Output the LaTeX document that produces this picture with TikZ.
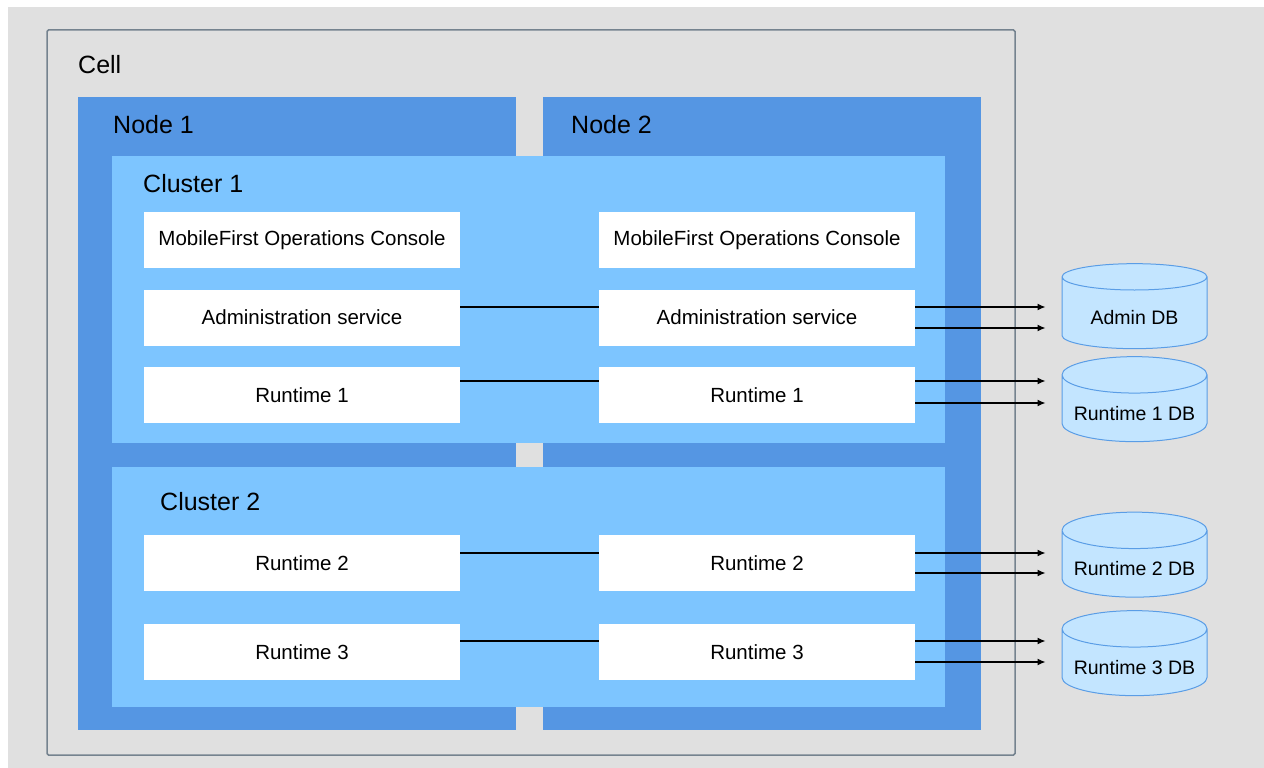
\documentclass[tikz,border=0pt]{standalone}
\usepackage{fontspec}
\setmainfont{Liberation Sans}
\usetikzlibrary{shapes.geometric,arrows.meta}

\definecolor{bggray}{HTML}{E0E0E0}
\definecolor{cellline}{HTML}{75838F}
\definecolor{nodeblue}{HTML}{5596E3}
\definecolor{clusterblue}{HTML}{7DC5FF}
\definecolor{dbfill}{HTML}{C3E5FF}
\definecolor{dbline}{HTML}{5A9DE6}

\newcommand{\dbtext}[1]{\raisebox{-5pt}[\height][\depth]{#1}}

\tikzset{
  area/.style={anchor=north west, inner sep=0pt, outer sep=0pt},
  cellbox/.style={area, draw=cellline, line width=1.5pt, rounded corners=1.5pt},
  hostbox/.style={area, fill=nodeblue},
  clusterbox/.style={area, fill=clusterblue},
  title/.style={anchor=west, inner sep=0pt, font=\fontsize{25}{28}\selectfont},
  appbox/.style={fill=white, minimum width=316pt, minimum height=56pt, inner sep=0pt,
    font=\fontsize{20.5}{22}\selectfont},
  dbcyl/.style={cylinder, shape border rotate=90, aspect=0.3, draw=dbline, fill=dbfill,
    line width=1pt, minimum width=145pt, minimum height=85pt, inner sep=0pt,
    font=\fontsize{19.5}{22}\selectfont},
  link/.style={line width=1.3pt},
  dblink/.style={line width=1.3pt, -{Latex[length=8pt,width=7pt]}, shorten >=16pt}
}

\begin{document}
\begin{tikzpicture}[x=1pt,y=-1pt]
        \useasboundingbox (0,0) rectangle (1264,768);
        \fill[bggray] (8,7) rectangle (1264,768);

        % Draw the cell, the two nodes and the two clusters
        \node[cellbox, minimum width=968pt, minimum height=725pt] (cell) at (47,30) {};
        \node[hostbox, minimum width=438pt, minimum height=633pt] (node1) at (78,97) {};
        \node[hostbox, minimum width=438pt, minimum height=633pt] (node2) at (543,97) {};
        \node[clusterbox, minimum width=833pt, minimum height=287pt] (cluster1) at (112,156) {};
        \node[clusterbox, minimum width=833pt, minimum height=240pt] (cluster2) at (112,467) {};

        \node[title] (cellT) at (78,65) {Cell};
        \node[title] (node1T) at (113,125) {Node 1};
        \node[title] (node2T) at (571,125) {Node 2};
        \node[title] (cluster1T) at (143,184) {Cluster 1};
        \node[title] (cluster2T) at (160,502) {Cluster 2};

        % Applications on node 1 (L) and node 2 (R)
        \node[appbox] (conL) at (302,240) {MobileFirst Operations Console};
        \node[appbox] (conR) at (757,240) {MobileFirst Operations Console};
        \node[appbox] (admL) at (302,317.5) {Administration service};
        \node[appbox] (admR) at (757,317.5) {Administration service};
        \node[appbox] (rt1L) at (302,395) {Runtime 1};
        \node[appbox] (rt1R) at (757,395) {Runtime 1};
        \node[appbox] (rt2L) at (302,563) {Runtime 2};
        \node[appbox] (rt2R) at (757,563) {Runtime 2};
        \node[appbox] (rt3L) at (302,652) {Runtime 3};
        \node[appbox] (rt3R) at (757,652) {Runtime 3};

        % Databases
        \node[dbcyl] (admDB) at (1134.5,313) {\dbtext{Admin DB}};
        \node[dbcyl] (rt1DB) at (1134.5,408.5) {\dbtext{Runtime 1 DB}};
        \node[dbcyl] (rt2DB) at (1134.5,564) {\dbtext{Runtime 2 DB}};
        \node[dbcyl] (rt3DB) at (1134.5,662.5) {\dbtext{Runtime 3 DB}};

        \foreach \r/\a/\b in {adm/307/328, rt1/381/403, rt2/553/573, rt3/641/662} {
            \draw[link] (\r L.east |- 0,\a) -- (\r R.west |- 0,\a);
            \draw[dblink] (\r R.east |- 0,\a) -- (\r DB.west |- 0,\a);
            \draw[dblink] (\r R.east |- 0,\b) -- (\r DB.west |- 0,\b);
        }
    \end{tikzpicture}
\end{document}
